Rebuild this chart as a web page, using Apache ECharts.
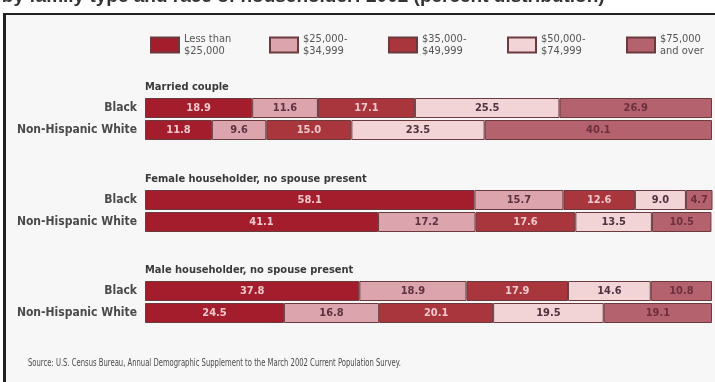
<!DOCTYPE html>
<html>
<head>
<meta charset="utf-8">
<script src="https://cdn.jsdelivr.net/npm/echarts@6/dist/echarts.min.js"></script>
<style>
  html, body { margin: 0; padding: 0; background: #ffffff; }
  #chart { width: 715px; height: 382px; }
</style>
</head>
<body>
<div id="chart"></div>
<script>
// Household income distribution by family type and race of householder, 2002 (percent)
const races = ['Black', 'Non-Hispanic White'];
const familyTypes = [
  'Married couple',
  'Female householder, no spouse present',
  'Male householder, no spouse present'
];
const incomeBrackets = [
  'Less than $25,000',
  '$25,000-$34,999',
  '$35,000-$49,999',
  '$50,000-$74,999',
  '$75,000 and over'
];
const legendLabels = [
  'Less than\n$25,000',
  '$25,000-\n$34,999',
  '$35,000-\n$49,999',
  '$50,000-\n$74,999',
  '$75,000\nand over'
];

// Percent shares per income bracket (same order as incomeBrackets)
const marriedBlack = [18.9, 11.6, 17.1, 25.5, 26.9];
const marriedWhite = [11.8, 9.6, 15.0, 23.5, 40.1];
const femaleBlack = [58.1, 15.7, 12.6, 9.0, 4.7];
const femaleWhite = [41.1, 17.2, 17.6, 13.5, 10.5];
const maleBlack = [37.8, 18.9, 17.9, 14.6, 10.8];
const maleWhite = [24.5, 16.8, 20.1, 19.5, 19.1];

const groupRows = [
  [marriedBlack, marriedWhite],
  [femaleBlack, femaleWhite],
  [maleBlack, maleWhite]
];

const bracketColors = ['#a41d2d', '#dca4ac', '#aa363d', '#f2d4d6', '#b4636e'];
const labelColors = ['#efc9cc', '#5c3340', '#efc9cc', '#4f3340', '#6e2f3e'];

const narrow = "'Liberation Sans Narrow', 'DejaVu Sans Condensed', 'Liberation Sans', sans-serif";

const gridTops = [97, 189, 280];
const gridHeight = 44;

const grids = gridTops.map(t => ({ left: 145, right: 3, top: t, height: gridHeight }));
const xAxes = gridTops.map((t, i) => ({
  type: 'value', gridIndex: i, min: 0, max: 100, show: false
}));
const yAxes = gridTops.map((t, i) => ({
  type: 'category', gridIndex: i, data: races, inverse: true,
  axisLine: { show: false }, axisTick: { show: false },
  axisLabel: {
    color: '#4a4a4a', fontFamily: narrow, fontWeight: 'bold', fontSize: 12, margin: 8
  }
}));

const series = [];
groupRows.forEach((rows, g) => {
  incomeBrackets.forEach((name, b) => {
    series.push({
      name: name,
      type: 'bar',
      xAxisIndex: g,
      yAxisIndex: g,
      stack: 'share' + g,
      barWidth: 20,
      data: rows.map(r => r[b]),
      itemStyle: { color: bracketColors[b], borderColor: '#6a3a3e', borderWidth: 1 },
      label: {
        show: true,
        position: 'inside',
        formatter: p => p.value.toFixed(1),
        color: labelColors[b],
        fontFamily: narrow,
        fontWeight: 'bold',
        fontSize: 11
      },
      emphasis: { disabled: true }
    });
  });
});

const legendLefts = [145, 264, 383, 502, 621];
const legends = incomeBrackets.map((name, i) => ({
  data: [{ name: name, icon: 'rect' }],
  left: legendLefts[i],
  top: 28,
  itemWidth: 28,
  itemHeight: 15,
  selectedMode: false,
  formatter: () => legendLabels[i],
  textStyle: { color: '#555', fontFamily: narrow, fontSize: 11, lineHeight: 12 }
}));

const headingTexts = familyTypes.map((t, i) => ({
  type: 'text',
  left: 145,
  top: gridTops[i] - 15,
  style: { text: t, fill: '#3a3a3a', font: "bold 11px " + narrow }
}));

const option = {
  backgroundColor: '#ffffff',
  animation: false,
  grid: grids,
  xAxis: xAxes,
  yAxis: yAxes,
  legend: legends,
  series: series,
  graphic: [
    { type: 'rect', z: -10, shape: { x: 5, y: 14, width: 710, height: 368 }, style: { fill: '#f8f7f7' } },
    { type: 'rect', z: 10, shape: { x: 3, y: 13, width: 712, height: 2 }, style: { fill: '#222' } },
    { type: 'rect', z: 10, shape: { x: 3, y: 13, width: 3, height: 369 }, style: { fill: '#222' } },
    {
      type: 'text', x: -70, y: -13,
      style: {
        text: 'Income by family type and race of householder: 2002 (percent distribution)',
        fill: '#333', font: "bold 19px 'Liberation Sans', sans-serif"
      }
    },
    ...headingTexts,
    {
      type: 'text', x: 28, y: 358, scaleX: 0.76,
      style: {
        text: 'Source: U.S. Census Bureau, Annual Demographic Supplement to the March 2002 Current Population Survey.',
        fill: '#4a4a4a', font: "10px " + narrow
      }
    }
  ]
};

echarts.init(document.getElementById('chart')).setOption(option);
</script>
</body>
</html>
